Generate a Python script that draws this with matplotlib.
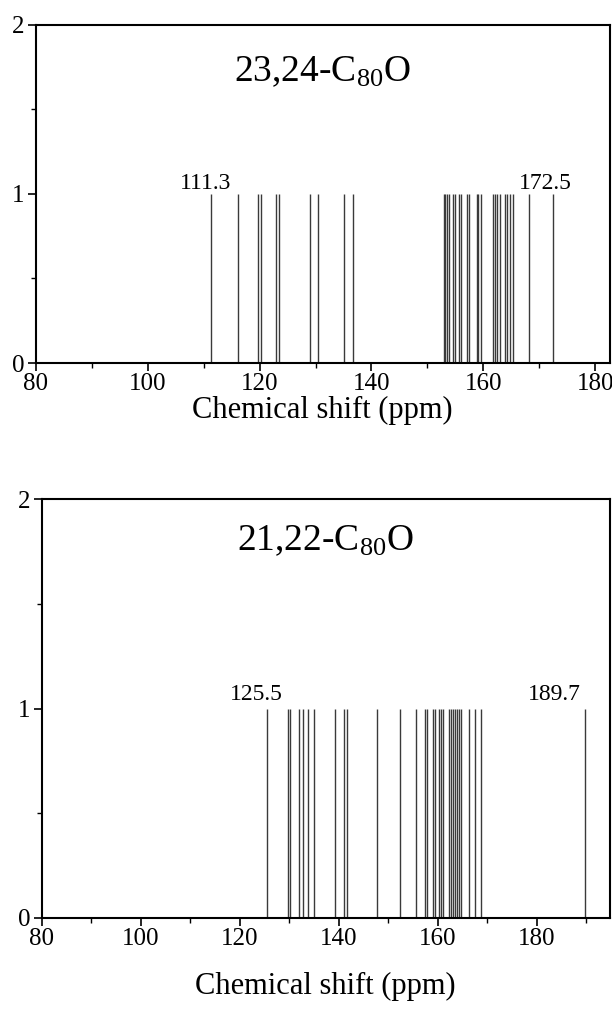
import matplotlib
matplotlib.use("Agg")
import matplotlib.pyplot as plt
from matplotlib.ticker import MultipleLocator

plt.rcParams['font.family'] = ['Liberation Serif', 'DejaVu Serif']
plt.rcParams['mathtext.default'] = 'regular'

# 13C chemical shifts
shifts_2324 = [111.3, 116.2, 119.8, 120.3, 123.0, 123.4, 129.1, 130.5, 135.1, 136.7,
               152.9, 153.2, 153.5, 153.8, 154.6, 154.9, 155.7, 156.0, 157.1, 157.4,
               158.8, 159.1, 159.6, 161.8, 162.1, 162.5, 162.9, 163.8, 164.2, 164.7,
               165.3, 168.2, 172.5]
shifts_2122 = [125.5, 129.7, 130.1, 131.9, 132.8, 133.7, 135.0, 139.2, 141.1, 141.7,
               147.7, 152.3, 155.6, 157.4, 157.8, 159.1, 159.4, 160.3, 160.6, 161.0,
               162.3, 162.7, 163.1, 163.5, 163.8, 164.2, 164.6, 166.3, 167.5, 168.8,
               189.7]
names = ['23,24-C$_{80}$O', '21,22-C$_{80}$O']
marked_2324 = [111.3, 172.5]
marked_2122 = [125.5, 189.7]

fig = plt.figure(figsize=(6.12, 10.09), dpi=100)
ax1 = fig.add_axes([0.0587, 0.6402, 0.9375, 0.3354])
ax2 = fig.add_axes([0.0683, 0.0902, 0.9278, 0.4148])

panels = [
    (ax1, shifts_2324, marked_2324, names[0], 182.6, [-4, -6], 0.86, 0, 1),
    (ax2, shifts_2122, marked_2122, names[1], 194.7, [-8, -22], 0.90, 3, 16),
]

for ax, shifts, marked, name, xmax, offs, ty, dy, lpad in panels:
    ax.vlines(shifts, 0, 1, color='#3a3a3a', linewidth=1.0)
    ax.set_xlim(80, xmax)
    ax.set_ylim(0, 2)
    ax.xaxis.set_major_locator(MultipleLocator(20))
    ax.xaxis.set_minor_locator(MultipleLocator(10))
    ax.yaxis.set_major_locator(MultipleLocator(1))
    ax.yaxis.set_minor_locator(MultipleLocator(0.5))
    ax.tick_params(which='major', direction='out', length=6, width=1.2, labelsize=18)
    ax.tick_params(which='minor', direction='out', length=3.5, width=1.0)
    ax.tick_params(axis='x', pad=1)
    ax.tick_params(axis='y', pad=2)
    for s in ax.spines.values():
        s.set_linewidth(1.5)
    ax.set_xlabel('Chemical shift (ppm)', fontsize=22, labelpad=lpad)
    ax.text(0.5, ty, name, transform=ax.transAxes, ha='center', va='center', fontsize=27)
    for v, o in zip(marked, offs):
        ax.annotate(f'{v}', xy=(v, 1.0), xytext=(o, dy), textcoords='offset points',
                    ha='center', va='bottom', fontsize=17)

fig.savefig('out.png', dpi=100)
